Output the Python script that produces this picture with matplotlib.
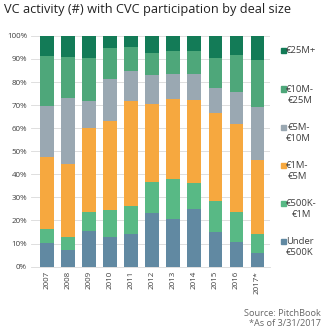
import matplotlib
matplotlib.use("Agg")
import matplotlib.pyplot as plt
import numpy as np
from matplotlib.patches import Rectangle

plt.rcParams["font.family"] = ["Open Sans", "DejaVu Sans"]

years = ["2007", "2008", "2009", "2010", "2011", "2012", "2013", "2014", "2015", "2016", "2017*"]
series = ["Under\n€500K", "€500K-\n€1M", "€1M-\n€5M", "€5M-\n€10M", "€10M-\n€25M", "€25M+"]
colors = ["#6189a2", "#58b985", "#f6a83f", "#9aa8b2", "#4ea77a", "#137b57"]

# cumulative tops (%), bottom segment first
under_500k = [10.4, 7.2, 15.6, 13.0, 14.1, 23.4, 20.8, 24.8, 15.2, 10.8, 5.8]
cum_1m = [16.2, 12.7, 23.7, 24.5, 26.3, 36.7, 37.8, 36.4, 28.6, 23.8, 14.0]
cum_5m = [47.5, 44.4, 60.0, 63.1, 71.7, 70.3, 72.7, 72.4, 66.4, 62.0, 46.2]
cum_10m = [69.6, 73.1, 71.7, 81.4, 84.9, 83.1, 83.6, 83.6, 77.4, 75.6, 69.3]
cum_25m = [91.3, 91.0, 90.3, 94.6, 95.3, 92.7, 93.6, 93.6, 90.3, 91.7, 89.6]
total = [100.0] * 11

tops = np.array([under_500k, cum_1m, cum_5m, cum_10m, cum_25m, total]) / 100.0
shares = np.diff(np.vstack([np.zeros(len(years)), tops]), axis=0)

fig = plt.figure(figsize=(3.28, 3.35), dpi=100)
ax = fig.add_axes([0.095, 0.204, 0.728, 0.689])

x = np.arange(len(years))
bottom = np.zeros(len(years))
for share, c in zip(shares, colors):
    ax.bar(x, share, bottom=bottom, width=0.64, color=c, zorder=3)
    bottom += share

ax.set_ylim(0, 1)
ax.set_xlim(-0.75, 10.6)
ax.set_yticks(np.arange(0, 1.01, 0.1))
ax.set_yticklabels([f"{v}%" for v in range(0, 101, 10)], fontsize=5.8, color="#404040")
ax.set_xticks(x)
ax.set_xticklabels(years, rotation=90, fontsize=5.8, color="#404040")
ax.tick_params(length=0, pad=3)
ax.grid(axis="y", color="#d9d9d9", linewidth=0.6, zorder=0)
for s in ["top", "right", "left"]:
    ax.spines[s].set_visible(False)
ax.spines["bottom"].set_color("#d9d9d9")
ax.spines["bottom"].set_linewidth(0.6)

# legend, top entry first, evenly spaced
W, H = 328, 335
for i, (lab, c) in enumerate(zip(series[::-1], colors[::-1])):
    yc = 50.8 + i * 38.2
    fig.patches.append(Rectangle((280.5 / W, 1 - (yc + 2.5) / H), 5 / W, 5 / H,
                                 transform=fig.transFigure, color=c))
    fig.text(286 / W, 1 - (yc - 4.5) / H, lab, fontsize=6.8, color="#404040",
             ha="left", va="top", multialignment="center", linespacing=1.3)

fig.text(4 / W, 1 - 10 / H, "VC activity (#) with CVC participation by deal size",
         fontsize=9.2, color="#222222", ha="left", va="center")
fig.text(321 / W, 1 - 313 / H, "Source: PitchBook", fontsize=6.6, color="#666666",
         ha="right", va="center")
fig.text(321 / W, 1 - 323 / H, "*As of 3/31/2017", fontsize=6.6, color="#666666",
         ha="right", va="center")

fig.savefig("out.png", dpi=100)
